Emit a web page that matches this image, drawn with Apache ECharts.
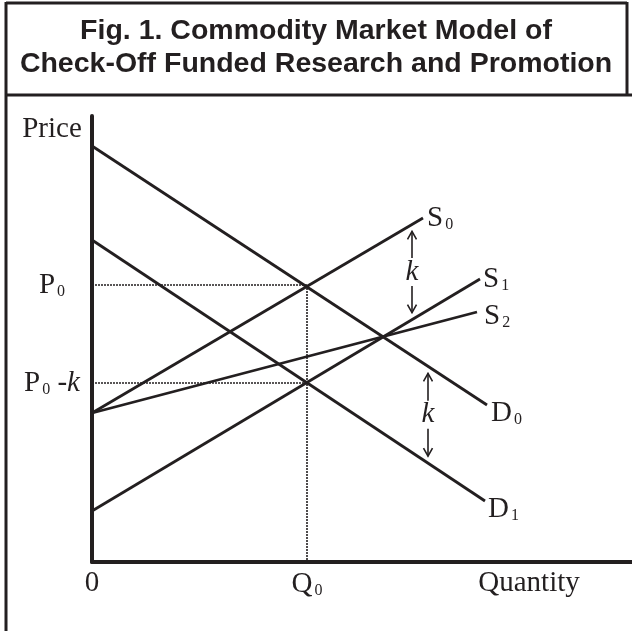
<!DOCTYPE html>
<html><head><meta charset="utf-8">
<script src="https://cdn.jsdelivr.net/npm/echarts@6/dist/echarts.min.js"></script>
<style>html,body{margin:0;padding:0;background:#fff}#c{width:632px;height:631px}</style>
</head><body><div id="c"></div>
<script>
// ---- data (diagram units) ----
const TITLE_LINES = ['Fig. 1. Commodity Market Model of', 'Check-Off Funded Research and Promotion'];
const CURVE_NAMES = ['S0', 'S1', 'S2', 'D0', 'D1'];
const S0 = [[0, 14.9], [33.1, 34.4]];
const S1 = [[0, 5.1], [38.8, 28.3]];
const S2 = [[0, 14.9], [38.5, 25.0]];
const D0 = [[0, 41.6], [39.5, 15.7]];
const D1 = [[0, 32.2], [39.3, 6.1]];
const P0 = 27.7;
const P0_MINUS_K = 17.9;
const Q0 = 21.5;
const K_ARROW_X = [32.0, 33.6];          // where the k shifts are marked (upper: S0->S1, lower: D0->D1)
const X_LABEL_VALUES = [0, Q0, 43.7];
const X_LABEL_TEXTS = ['{m|0}', '{m|Q}{s|0}', '{m|Quantity}'];
const Y_LABEL_VALUES = [P0_MINUS_K, P0, 43.3];
const Y_LABEL_TEXTS = ['{m|P}{s|0}{m| -}{k|k}', '{m|P}{s|0}', '{m|Price}'];
const X_MAX = 54, Y_MAX = 44.6;

// ---- styling ----
const INK = '#231f20';
const SERIF = '"Liberation Serif", "Times New Roman", serif';
const rich = {
  m: {fontFamily: SERIF, fontSize: 29, color: INK},
  s: {fontFamily: SERIF, fontSize: 16, color: INK, padding: [14, 0, 0, 2]},
  k: {fontFamily: SERIF, fontSize: 29, fontStyle: 'italic', color: INK, textBorderWidth: 0}
};

function yAt(line, x) {
  const [a, b] = line;
  return a[1] + (b[1] - a[1]) * (x - a[0]) / (b[0] - a[0]);
}

const curves = {S0, S1, S2, D0, D1};
const labelOffset = {S0: [0, 0], S1: [0, 0], S2: [0, 4], D0: [0, 8], D1: [0, 8]};
const labelDist = {S0: 4, S1: 3, S2: 7, D0: 4, D1: 3};

const series = CURVE_NAMES.map(n => ({
  type: 'line', name: n, data: curves[n], symbol: 'none', silent: true,
  lineStyle: {color: INK, width: 2.8},
  endLabel: {
    show: true, formatter: '{m|' + n[0] + '}{s|' + n.slice(1) + '}',
    rich: rich, distance: labelDist[n], offset: labelOffset[n]
  }
}));

// dotted guide lines
const guides = [
  [[0, P0], [Q0, P0]],
  [[0, P0_MINUS_K], [Q0, P0_MINUS_K]],
  [[Q0, P0], [Q0, 0]]
];
guides.forEach(g => series.push({
  type: 'line', data: g, symbol: 'none', silent: true,
  lineStyle: {color: INK, width: 1.6, type: [2, 1]}
}));

// k arrows between parallel curves
const GAP = 0.7, HALF_BREAK = 1.4, DX = 0.45, DY = 0.8;
const pairs = [[S0, S1], [D0, D1]];
const arrowSegs = [], kPoints = [];
pairs.forEach((p, i) => {
  const x = K_ARROW_X[i];
  const top = yAt(p[0], x) - GAP, bot = yAt(p[1], x) + GAP, mid = (top + bot) / 2;
  arrowSegs.push({coords: [[x, top], [x, mid + HALF_BREAK]]});
  arrowSegs.push({coords: [[x, mid - HALF_BREAK], [x, bot]]});
  arrowSegs.push({coords: [[x - DX, top - DY], [x, top], [x + DX, top - DY]]});
  arrowSegs.push({coords: [[x - DX, bot + DY], [x, bot], [x + DX, bot + DY]]});
  kPoints.push([x, mid]);
});
series.push({
  type: 'lines', coordinateSystem: 'cartesian2d', polyline: true, silent: true,
  lineStyle: {color: INK, width: 1.6, opacity: 1}, data: arrowSegs
});
series.push({
  type: 'scatter', data: kPoints, symbolSize: 0, silent: true,
  itemStyle: {opacity: 1, color: INK},
  label: {show: true, position: 'inside', color: INK, opacity: 1, textBorderWidth: 0,
    formatter: '{k|k}', rich: rich}
});

const chart = echarts.init(document.getElementById('c'), null, {renderer: 'canvas'});
chart.setOption({
  animation: false,
  backgroundColor: '#fff',
  title: {
    text: TITLE_LINES.join('\n'), left: 'center', top: 10,
    textStyle: {fontFamily: '"Liberation Sans", Arial, sans-serif', fontWeight: 'bold',
      fontSize: 28.5, lineHeight: 33, color: INK}
  },
  graphic: [
    {type: 'line', shape: {x1: 6, y1: 3, x2: 627, y2: 3}, style: {stroke: INK, lineWidth: 3}},
    {type: 'line', shape: {x1: 6, y1: 2, x2: 6, y2: 631}, style: {stroke: INK, lineWidth: 3}},
    {type: 'line', shape: {x1: 627, y1: 2, x2: 627, y2: 96}, style: {stroke: INK, lineWidth: 3}},
    {type: 'line', shape: {x1: 6, y1: 95, x2: 632, y2: 95}, style: {stroke: INK, lineWidth: 3}}
  ],
  grid: {left: 92, top: 116, right: 0, bottom: 69, containLabel: false},
  xAxis: {
    type: 'value', min: 0, max: X_MAX,
    axisLine: {show: true, onZero: false, lineStyle: {color: INK, width: 4}},
    axisTick: {show: false}, splitLine: {show: false},
    axisLabel: {
      customValues: X_LABEL_VALUES, margin: 7, color: INK,
      formatter: v => X_LABEL_TEXTS[X_LABEL_VALUES.indexOf(v)] ?? '', rich: rich
    }
  },
  yAxis: {
    type: 'value', min: 0, max: Y_MAX,
    axisLine: {show: true, onZero: false, lineStyle: {color: INK, width: 4}},
    axisTick: {show: false}, splitLine: {show: false},
    axisLabel: {
      customValues: Y_LABEL_VALUES, margin: 40, align: 'center', color: INK,
      formatter: v => Y_LABEL_TEXTS[Y_LABEL_VALUES.indexOf(v)] ?? '', rich: rich
    }
  },
  series: series
});
</script></body></html>
